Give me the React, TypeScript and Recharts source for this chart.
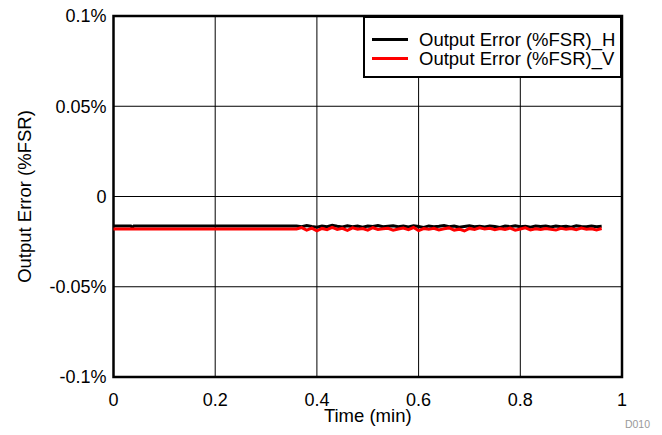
import React from "react";
import {
  LineChart,
  Line,
  XAxis,
  YAxis,
  CartesianGrid,
  Legend,
  ReferenceArea,
} from "recharts";

const FONT = '"Liberation Sans", Arial, Helvetica, sans-serif';

const timeMin = [
  0, 0.034, 0.037, 0.04, 0.1, 0.2, 0.3, 0.35,
  0.36, 0.37, 0.38, 0.39, 0.4, 0.41, 0.42, 0.43, 0.44, 0.45,
  0.46, 0.47, 0.48, 0.49, 0.5, 0.51, 0.52, 0.53, 0.54, 0.55,
  0.56, 0.57, 0.58, 0.59, 0.6, 0.61, 0.62, 0.63, 0.64, 0.65,
  0.66, 0.67, 0.68, 0.69, 0.7, 0.71, 0.72, 0.73, 0.74, 0.75,
  0.76, 0.77, 0.78, 0.79, 0.8, 0.81, 0.82, 0.83, 0.84, 0.85,
  0.86, 0.87, 0.88, 0.89, 0.9, 0.91, 0.92, 0.93, 0.94, 0.95,
  0.96,
];

const errorH = [
  -0.0163, -0.0163, -0.0172, -0.0163, -0.0163, -0.0163, -0.0163, -0.0163,
  -0.0164, -0.0168, -0.0161, -0.0166, -0.017, -0.0163, -0.0167, -0.016, -0.0165, -0.0169,
  -0.0162, -0.0167, -0.0164, -0.017, -0.0163, -0.0166, -0.0161, -0.0168, -0.0165, -0.0162,
  -0.0167, -0.0164, -0.0169, -0.0162, -0.0166, -0.0171, -0.0163, -0.0167, -0.0165, -0.0161,
  -0.0168, -0.0164, -0.017, -0.0166, -0.0162, -0.0167, -0.0165, -0.0169, -0.0163, -0.0166,
  -0.0171, -0.0164, -0.0167, -0.0162, -0.0168, -0.0165, -0.017, -0.0163, -0.0166, -0.0164,
  -0.0169, -0.0163, -0.0167, -0.0165, -0.017, -0.0162, -0.0166, -0.0168, -0.0164, -0.0167,
  -0.0165,
];

const errorV = [
  -0.018, -0.018, -0.018, -0.018, -0.018, -0.018, -0.018, -0.018,
  -0.018, -0.0172, -0.0186, -0.0175, -0.019, -0.0177, -0.0184, -0.0171, -0.0182, -0.0176,
  -0.0188, -0.0174, -0.0181, -0.0178, -0.0186, -0.0173, -0.0183, -0.0179, -0.0176, -0.0187,
  -0.018, -0.0175, -0.0184, -0.0172, -0.0189, -0.0178, -0.0182, -0.0176, -0.0185, -0.0179,
  -0.0174, -0.0186, -0.0181, -0.0191, -0.0177, -0.0183, -0.0173, -0.018, -0.0176, -0.0184,
  -0.0178, -0.0182, -0.0175, -0.0187, -0.018, -0.0174, -0.0185, -0.0179, -0.0183, -0.0177,
  -0.0181, -0.0186, -0.0176, -0.0182, -0.0178, -0.0184, -0.0175, -0.0181, -0.0179, -0.0185,
  -0.0177,
];

const xTicks = [0, 0.2, 0.4, 0.6, 0.8, 1];
const yTicks = [-0.1, -0.05, 0, 0.05, 0.1];
const seriesNames = ["Output Error (%FSR)_H", "Output Error (%FSR)_V"];
const seriesColors = ["#000000", "#ff0000"];

const data = timeMin.map((t, i) => ({ t, h: errorH[i], v: errorV[i] }));

const renderLegend = (props: any) => {
  const payload = props.payload || [];
  return (
    <div
      style={{
        boxSizing: "border-box",
        width: 259,
        height: 62,
        border: "2px solid #000",
        background: "#fff",
        paddingTop: 12,
        fontFamily: FONT,
        fontSize: 18.5,
        color: "#000",
      }}
    >
      {payload.map((p: any, i: number) => (
        <div
          key={i}
          style={{ display: "flex", alignItems: "center", height: 19 }}
        >
          <div
            style={{
              marginLeft: 7,
              width: 36,
              height: 3,
              background: p.color,
            }}
          />
          <span style={{ marginLeft: 11, whiteSpace: "nowrap", lineHeight: "19px" }}>
            {p.value}
          </span>
        </div>
      ))}
    </div>
  );
};

export default function App() {
  return (
    <div style={{ position: "absolute", left: 0, top: 0, width: 662, height: 435, background: "#fff" }}>
      <LineChart
        width={662}
        height={435}
        data={data}
        margin={{ top: 16, right: 40, bottom: 0, left: 0 }}
      >
        <CartesianGrid stroke="#000" strokeWidth={1} horizontalValues={yTicks} verticalValues={xTicks} />
        <XAxis
          dataKey="t"
          type="number"
          domain={[0, 1]}
          ticks={xTicks}
          tickFormatter={(v: number) => (v === 0 ? "0" : String(v))}
          axisLine={false}
          tickLine={false}
          tickSize={0}
          tickMargin={16}
          height={58}
          interval={0}
          tick={{ fill: "#000", fontSize: 18, fontFamily: FONT }}
          label={{
            value: "Time (min)",
            position: "insideBottom",
            offset: 13,
            fill: "#000",
            fontSize: 18.5,
            fontFamily: FONT,
          }}
        />
        <YAxis
          type="number"
          domain={[-0.1, 0.1]}
          ticks={yTicks}
          tickFormatter={(v: number) => (v === 0 ? "0" : `${v}%`)}
          axisLine={false}
          tickLine={false}
          tickSize={0}
          tickMargin={7}
          width={113.5}
          interval={0}
          tick={{ fill: "#000", fontSize: 18, fontFamily: FONT }}
          label={{
            value: "Output Error (%FSR)",
            angle: -90,
            position: "insideLeft",
            offset: 24,
            fill: "#000",
            fontSize: 18.5,
            fontFamily: FONT,
            style: { textAnchor: "middle" },
          }}
        />
        <ReferenceArea
          x1={0}
          x2={1}
          y1={-0.1}
          y2={0.1}
          fill="none"
          fillOpacity={0}
          stroke="#000"
          strokeWidth={2.5}
          ifOverflow="visible"
        />
        <Line
          dataKey="h"
          name={seriesNames[0]}
          stroke={seriesColors[0]}
          strokeWidth={3}
          dot={false}
          type="linear"
          isAnimationActive={false}
        />
        <Line
          dataKey="v"
          name={seriesNames[1]}
          stroke={seriesColors[1]}
          strokeWidth={3}
          dot={false}
          type="linear"
          isAnimationActive={false}
        />
        <Legend
          layout="vertical"
          align="center"
          verticalAlign="middle"
          content={renderLegend}
          wrapperStyle={{ left: 363, top: 16, width: 259, height: 62 }}
        />
        <text
          x={650}
          y={428}
          textAnchor="end"
          fill="#999"
          fontSize={10.5}
          fontFamily={FONT}
        >
          D010
        </text>
      </LineChart>
    </div>
  );
}
